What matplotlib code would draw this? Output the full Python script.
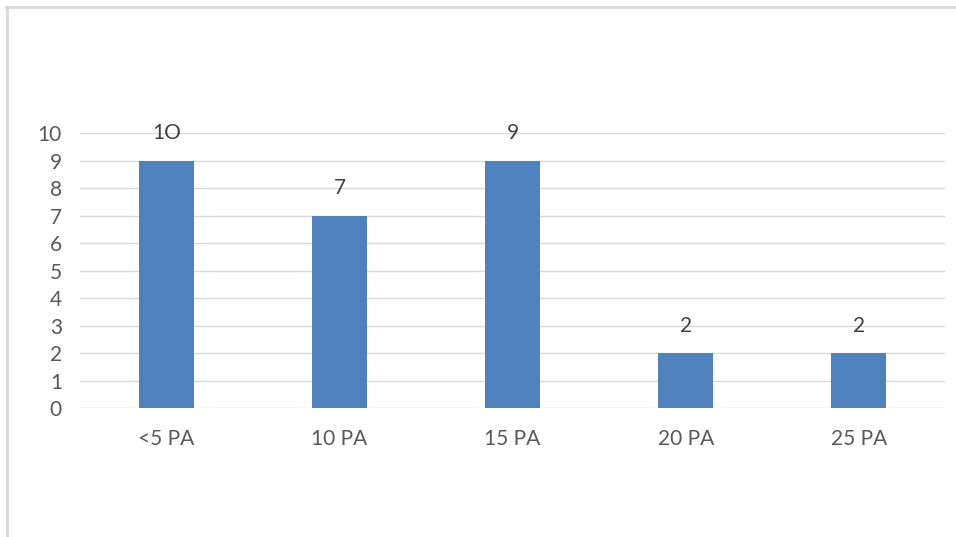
import matplotlib
matplotlib.use('Agg')
import matplotlib.pyplot as plt
from matplotlib.lines import Line2D
import numpy as np

# データ
categories = ["<5 PA", "10 PA", "15 PA", "20 PA", "25 PA"]
values = [9, 7, 9, 2, 2]
bar_labels = ["1O", "7", "9", "2", "2"]

plt.rcParams['font.family'] = ['Lato', 'DejaVu Sans']

fig = plt.figure(figsize=(9.56, 5.37), dpi=100)
ax = fig.add_axes([0.0837, 0.2402, 0.905, 0.5121])

x = np.arange(len(categories))
ax.bar(x, values, width=0.32, color="#4f81bd", zorder=3)

for xi, v, lab in zip(x, values, bar_labels):
    ax.text(xi, v + 1, lab, ha='center', va='center', fontsize=15, color="#404040")

ax.set_xlim(-0.5, len(categories) - 0.5)
ax.set_ylim(0, 10)
ax.set_yticks(range(0, 11))
ax.set_xticks(x)
ax.set_xticklabels(categories)
ax.tick_params(axis='both', length=0, labelsize=15, labelcolor="#595959")
ax.tick_params(axis='x', pad=15)
ax.tick_params(axis='y', pad=13)
for lab in ax.get_yticklabels():
    lab.set_horizontalalignment('right')

ax.grid(axis='y', color="#d9d9d9", linewidth=1, zorder=0)
for s in ax.spines.values():
    s.set_visible(False)

# 外枠
fig.add_artist(Line2D([6/956, 1], [1 - 7/537, 1 - 7/537], color="#d9d9d9", linewidth=2))
fig.add_artist(Line2D([7/956, 7/956], [0, 1 - 7/537], color="#d9d9d9", linewidth=2))

fig.savefig("out.png", dpi=100)
